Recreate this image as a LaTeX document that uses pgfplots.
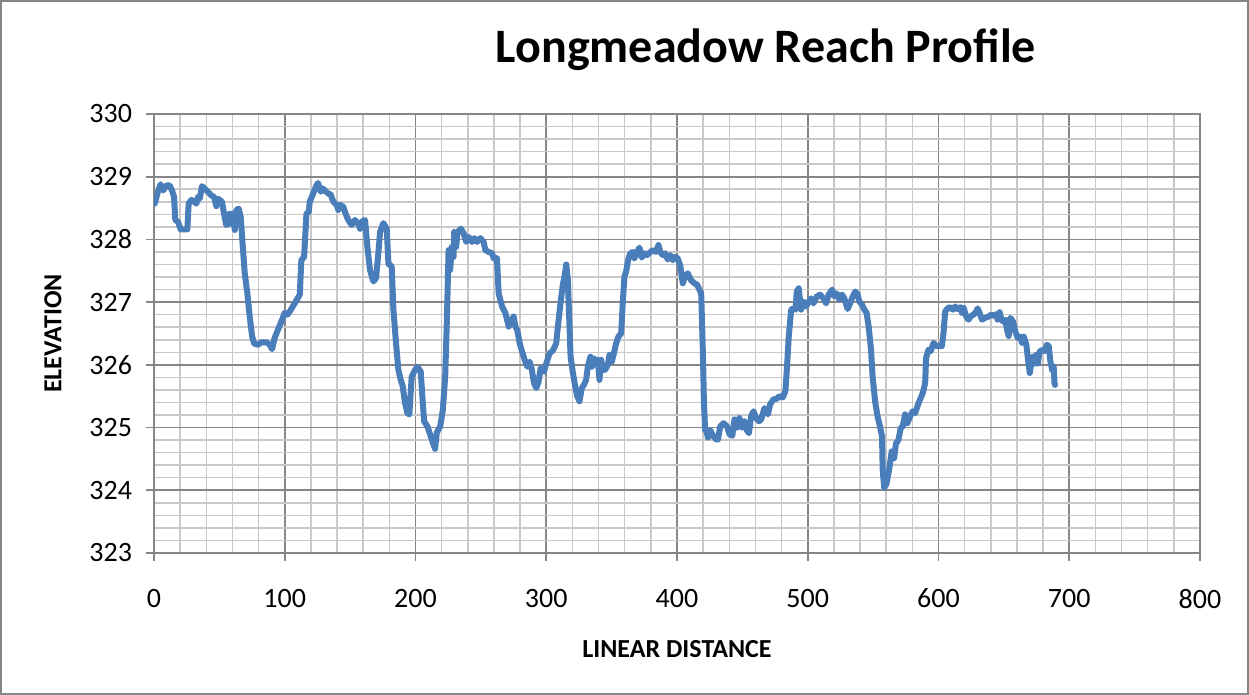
\documentclass[border=0pt]{standalone}
\usepackage{pgfplots}
\pgfplotsset{compat=1.18}
\usepackage{fontspec}
\setmainfont{Carlito}
\definecolor{lineblue}{RGB}{74,126,187}
\definecolor{majgrid}{RGB}{134,134,134}
\definecolor{mingrid}{RGB}{200,200,200}
\definecolor{framegray}{RGB}{134,134,134}
\pgfplotstableread{
x y
0.5 328.57
3 328.76
5 328.88
7 328.78
9.4 328.86
12 328.86
13.8 328.78
15.3 328.68
16.3 328.31
18.4 328.28
20.4 328.16
25.5 328.16
26.5 328.57
28.6 328.63
31 328.6
32.4 328.57
33.7 328.68
35 328.65
36.7 328.85
38.8 328.81
41.3 328.76
43.9 328.7
45.9 328.68
47.7 328.53
49 328.65
52 328.6
54 328.36
55.3 328.23
56.6 328.25
57.9 328.41
59.2 328.25
60.5 328.41
61.8 328.15
63 328.47
64.8 328.49
66.3 328.36
68.1 327.83
69.4 327.46
71.4 327.14
73.2 326.77
75 326.46
76.5 326.34
79.6 326.32
82.1 326.36
86 326.36
88.5 326.32
90.3 326.25
92.3 326.43
95.4 326.59
97.4 326.69
100 326.83
102 326.8
103.8 326.85
107.6 326.98
111.5 327.12
112.7 327.67
114.8 327.72
116.6 328.41
118.4 328.44
119.1 328.6
121.7 328.73
124.2 328.86
125.5 328.9
127.6 328.76
129.3 328.81
133.2 328.73
135 328.72
137.2 328.6
139.7 328.55
141 328.47
142.3 328.55
144.8 328.52
146.9 328.39
148.6 328.31
151.2 328.23
153.7 328.31
156.3 328.25
157.6 328.17
158.8 328.28
161.4 328.31
163.2 327.88
165.2 327.51
167.8 327.33
169.8 327.38
171.6 327.78
172.9 328.12
175.4 328.26
178 328.17
179.3 327.61
181.8 327.57
183.1 326.88
185.1 326.35
186.9 325.92
188.7 325.76
190.2 325.66
192 325.39
193.8 325.23
195.3 325.21
197.1 325.81
199.7 325.92
201.5 325.97
204 325.89
205.6 325.39
206.6 325.1
209.1 325.02
211.2 324.89
213.2 324.76
215 324.66
216.3 324.92
218.9 325.02
220.9 325.28
222.7 325.81
224 326.71
225.3 327.83
226.5 327.51
227.8 327.88
229.1 327.72
229.6 328.12
231.1 327.88
232.2 328.12
234.7 328.17
236.8 328.1
238.8 327.96
240.6 328.04
243.2 327.96
245 328.02
247 327.96
249.6 328.02
252.1 327.96
253.4 327.83
256 327.8
258.5 327.78
259.8 327.7
262.3 327.7
263.6 327.14
266.2 326.93
268.7 326.83
271.3 326.61
272.6 326.67
275.1 326.77
276.4 326.61
277.9 326.55
279.6 326.35
281.4 326.22
283.5 326.08
285.5 325.97
287.3 326.05
289 325.92
290.6 325.71
292.4 325.63
294.1 325.73
295.7 325.95
298.2 325.89
300 326.02
302.5 326.18
305.1 326.23
307.6 326.34
308.9 326.61
310.9 326.98
312.7 327.28
314 327.41
315.3 327.6
316.5 327.36
317.8 326.61
318.6 326.13
320.4 325.87
322.1 325.66
323.7 325.5
325.4 325.42
327.2 325.63
328.8 325.68
330.5 325.76
331.8 325.97
333.8 326.13
334.9 325.97
336.4 326.1
338.2 326.02
339.4 326.08
340.7 325.76
342 326.08
343.3 325.92
345 325.92
347.1 326
348.4 326.16
350.1 326.05
351.7 326.18
353.4 326.34
355.2 326.45
357.3 326.5
358.5 326.98
359.8 327.41
361.1 327.49
362.9 327.7
364.4 327.78
366.2 327.8
367.4 327.7
369.5 327.8
371.3 327.87
373 327.71
375.1 327.78
377.1 327.75
379.7 327.8
381.4 327.83
384 327.8
385.8 327.91
387.3 327.8
389.1 327.75
390.9 327.78
392.9 327.68
394.9 327.75
396.7 327.67
398.5 327.72
400.5 327.7
402.6 327.57
404.4 327.3
406.1 327.41
408.2 327.46
410.7 327.35
413.3 327.3
415.3 327.28
418.5 327.14
419.8 326.2
420.6 325.4
421.5 324.96
422.4 324.96
423.6 324.84
425.4 324.96
427.5 324.87
430 324.81
431.3 324.81
433.1 325.02
435.6 325.07
438.2 325.02
440.2 324.89
442.3 324.87
444 325.13
445.8 325
447.8 325.15
449.8 325
451.6 325.1
453.4 324.96
455 324.91
456.7 325.18
458.5 325.26
460.6 325.15
462.6 325.1
464.4 325.13
466.9 325.31
469.5 325.21
471.2 325.37
473.8 325.45
476.3 325.46
478.4 325.5
480.9 325.48
482.9 325.58
484 325.92
485.5 326.46
487.3 326.88
489 326.9
490.6 326.88
491.6 327.17
493.1 327.22
494.9 326.88
496.7 327.01
498.7 326.93
500.8 327.01
502.5 327.06
504.3 326.98
506.9 327.09
509.4 327.12
512 327.06
514 326.98
516 327.12
518.6 327.2
520.4 327.09
522.1 327.14
524.2 327.04
526.2 327.12
528 327.06
530.5 326.89
532.3 326.98
534.4 327.09
536.4 327.17
538.2 327.12
539.4 327.01
541.5 326.96
543.3 326.88
545 326.83
546.6 326.61
548.4 326.24
549.6 325.81
551.7 325.39
553.4 325.18
555.2 325.02
556.8 324.86
557.3 324.33
558.5 324.04
560.2 324.1
562.4 324.35
564.2 324.62
566 324.51
567.5 324.75
569.3 324.8
571.1 324.99
572.7 325.02
574.4 325.21
576.2 325.07
578.3 325.18
580.3 325.26
582.1 325.23
583.9 325.34
585.9 325.45
588 325.55
589.8 325.71
590.5 326.11
592.3 326.24
594.1 326.22
596.2 326.35
598.2 326.3
600.8 326.3
602.6 326.3
603.8 326.5
605.1 326.85
606.9 326.9
608.9 326.92
611 326.88
612.8 326.93
614.6 326.89
616.6 326.92
617.9 326.83
619.2 326.91
621.2 326.77
623 326.72
624.8 326.78
626.8 326.8
628.9 326.85
629.9 326.9
631.4 326.83
633.2 326.72
635.8 326.75
638.3 326.77
640.1 326.8
642.2 326.78
644.2 326.81
645.2 326.72
646.8 326.84
647.8 326.75
649.3 326.69
651.1 326.72
652.4 326.56
653.7 326.46
654.9 326.75
657 326.69
658.8 326.53
660.6 326.43
662.6 326.45
663.9 326.35
665.2 326.45
667.2 326.32
668.2 326.13
669.8 325.87
670.8 326
672.3 326.13
673.3 326.02
674.9 326.16
675.9 326.02
677.4 326.21
679.2 326.24
681 326.22
683 326.32
684.3 326.3
685.6 326.05
686.9 325.92
688.1 325.97
688.7 325.71
689.1 325.68
}\profile
\begin{document}
\begin{tikzpicture}
\path[use as bounding box] (0,0) rectangle (624.5pt,347.5pt);
\draw[framegray, line width=1pt] (0.5pt,0.5pt) rectangle (624pt,347pt);
\begin{axis}[
  at={(77pt,71pt)}, anchor=south west,
  scale only axis, width=523pt, height=219.5pt,
  xmin=0, xmax=800, ymin=323, ymax=330,
  xtick={0,100,...,800}, ytick={323,324,...,330},
  minor xtick={20,40,60,80,120,140,160,180,220,240,260,280,320,340,360,380,420,440,460,480,520,540,560,580,620,640,660,680,720,740,760,780},
  minor ytick={323.2,323.4,323.6,323.8,324.2,324.4,324.6,324.8,325.2,325.4,325.6,325.8,326.2,326.4,326.6,326.8,327.2,327.4,327.6,327.8,328.2,328.4,328.6,328.8,329.2,329.4,329.6,329.8},
  grid=both,
  major grid style={majgrid, line width=0.9pt},
  minor grid style={mingrid, line width=0.75pt},
  axis line style={majgrid, line width=0.9pt},
  tick align=outside, tick pos=left,
  major tick length=4pt, minor tick length=0pt,
  tick style={majgrid, line width=0.9pt},
  /pgf/number format/assume math mode=true,
  /pgf/number format/1000 sep={},
  ticklabel style={font=\fontsize{14}{16}\selectfont, text=black},
  xticklabel style={yshift=-10.5pt},
  yticklabel style={xshift=-3.5pt},
  every axis x label/.style={at={(axis description cs:0.5,-0.2187)}, anchor=center},
  every axis y label/.style={at={(axis description cs:-0.0966,0.5)}, rotate=90, anchor=center},
  xlabel={\fontsize{13}{15}\selectfont\bfseries LINEAR DISTANCE},
  ylabel={\fontsize{13}{15}\selectfont\bfseries ELEVATION},
]
\addplot[lineblue, line width=3pt, line join=round, line cap=round] table[x=x,y=y] {\profile};
\end{axis}
\node[anchor=base, font=\fontsize{24}{28}\selectfont\bfseries] at (383pt,316pt) {Longmeadow Reach Profile};
\end{tikzpicture}
\end{document}
